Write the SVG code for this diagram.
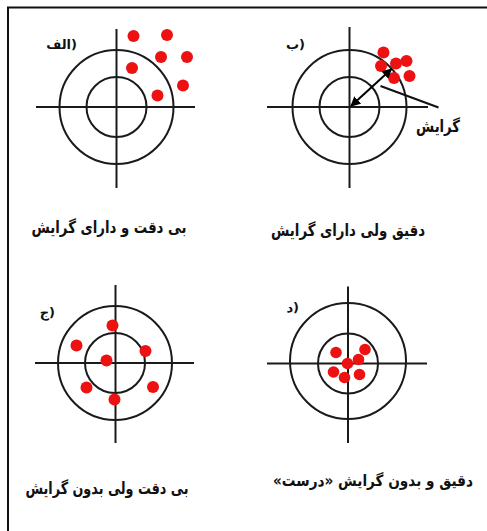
<svg xmlns="http://www.w3.org/2000/svg" width="487" height="531" viewBox="0 0 487 531">
<defs>
<style>
.ring{fill:none;stroke:#1a1a1a;stroke-width:2}
.axis{stroke:#1a1a1a;stroke-width:2}
.dot{fill:#ee1111}
.cap{font-family:"DejaVu Sans","Noto Sans",sans-serif;font-weight:bold;font-size:16.5px;fill:#111;text-anchor:middle;direction:rtl}
.lbl{font-family:"DejaVu Sans","Noto Sans",sans-serif;font-weight:bold;font-size:13px;fill:#111;text-anchor:end}
</style>
<marker id="ah" viewBox="0 0 10 10" refX="9" refY="5" markerWidth="5" markerHeight="5" orient="auto-start-reverse" markerUnits="strokeWidth">
<path d="M0,0 L10,5 L0,10 z" fill="#000"/>
</marker>
</defs>
<rect width="487" height="531" fill="#fff"/>
<path d="M8,531 V7.5 H487" fill="none" stroke="#111" stroke-width="2"/>

<g id="target-a">
<circle class="ring" cx="116.5" cy="107" r="57"/>
<circle class="ring" cx="116.5" cy="107" r="30"/>
<line class="axis" x1="36" y1="107" x2="195" y2="107"/>
<line class="axis" x1="116.5" y1="29" x2="116.5" y2="188"/>
<circle class="dot" cx="133.5" cy="36" r="6"/>
<circle class="dot" cx="167" cy="35" r="6"/>
<circle class="dot" cx="161" cy="57" r="6"/>
<circle class="dot" cx="187" cy="57" r="6"/>
<circle class="dot" cx="132" cy="68" r="6"/>
<circle class="dot" cx="183" cy="85.5" r="6"/>
<circle class="dot" cx="157.5" cy="95.5" r="6"/>
<text class="lbl" x="77" y="49">الف)</text>
<text class="cap" x="109" y="233" textLength="155" lengthAdjust="spacingAndGlyphs">بی دقت و دارای گرایش</text>
</g>

<g id="target-b">
<circle class="ring" cx="349.5" cy="107" r="57"/>
<circle class="ring" cx="349.5" cy="107" r="30"/>
<line class="axis" x1="267" y1="107" x2="428" y2="107"/>
<line class="axis" x1="349.5" y1="27" x2="349.5" y2="188"/>
<circle class="dot" cx="383.5" cy="52.5" r="6"/>
<circle class="dot" cx="381" cy="66" r="6"/>
<circle class="dot" cx="396" cy="63.5" r="6"/>
<circle class="dot" cx="406.5" cy="61" r="6"/>
<circle class="dot" cx="409.5" cy="76" r="6"/>
<circle class="dot" cx="394" cy="78" r="6"/>
<text class="lbl" x="305" y="49">ب)</text>
<text class="cap" x="438" y="132" textLength="44" lengthAdjust="spacingAndGlyphs">گرایش</text>
<text class="cap" x="348" y="236" textLength="154" lengthAdjust="spacingAndGlyphs">دقیق ولی دارای گرایش</text>
</g>

<g id="target-c">
<circle class="ring" cx="115" cy="363" r="57"/>
<circle class="ring" cx="115" cy="363" r="30"/>
<line class="axis" x1="35" y1="363" x2="194" y2="363"/>
<line class="axis" x1="115.5" y1="285" x2="115.5" y2="443"/>
<circle class="dot" cx="112.5" cy="325.5" r="6"/>
<circle class="dot" cx="76.5" cy="345.5" r="6"/>
<circle class="dot" cx="145.5" cy="351" r="6"/>
<circle class="dot" cx="106.5" cy="360.5" r="6"/>
<circle class="dot" cx="86.5" cy="387.5" r="6"/>
<circle class="dot" cx="153" cy="387" r="6"/>
<circle class="dot" cx="114.5" cy="399.5" r="6"/>
<text class="lbl" x="55" y="317">ج)</text>
<text class="cap" x="107" y="494" textLength="163" lengthAdjust="spacingAndGlyphs">بی دقت ولی بدون گرایش</text>
</g>

<g id="target-d">
<circle class="ring" cx="348" cy="361" r="58"/>
<circle class="ring" cx="348" cy="363.5" r="30"/>
<line class="axis" x1="267" y1="363.5" x2="427" y2="363.5"/>
<line class="axis" x1="348" y1="286.5" x2="348" y2="443"/>
<circle class="dot" cx="336" cy="352.5" r="5.8"/>
<circle class="dot" cx="365" cy="349.5" r="5.8"/>
<circle class="dot" cx="358.5" cy="359.5" r="5.8"/>
<circle class="dot" cx="347.5" cy="363.5" r="5.8"/>
<circle class="dot" cx="333.5" cy="372" r="5.8"/>
<circle class="dot" cx="344.5" cy="377.5" r="5.8"/>
<circle class="dot" cx="359.5" cy="374.5" r="5.8"/>
<text class="lbl" x="299" y="312">د)</text>
<text class="cap" x="373" y="486" style="font-size:15.5px" textLength="200" lengthAdjust="spacingAndGlyphs">دقیق و بدون گرایش «درست»</text>
</g>

<g id="connectors">
<line x1="391.5" y1="69" x2="351" y2="106" stroke="#000" stroke-width="2" marker-start="url(#ah)" marker-end="url(#ah)"/>
<line x1="380.5" y1="86" x2="438.5" y2="107.5" stroke="#111" stroke-width="2"/>
</g>
</svg>
